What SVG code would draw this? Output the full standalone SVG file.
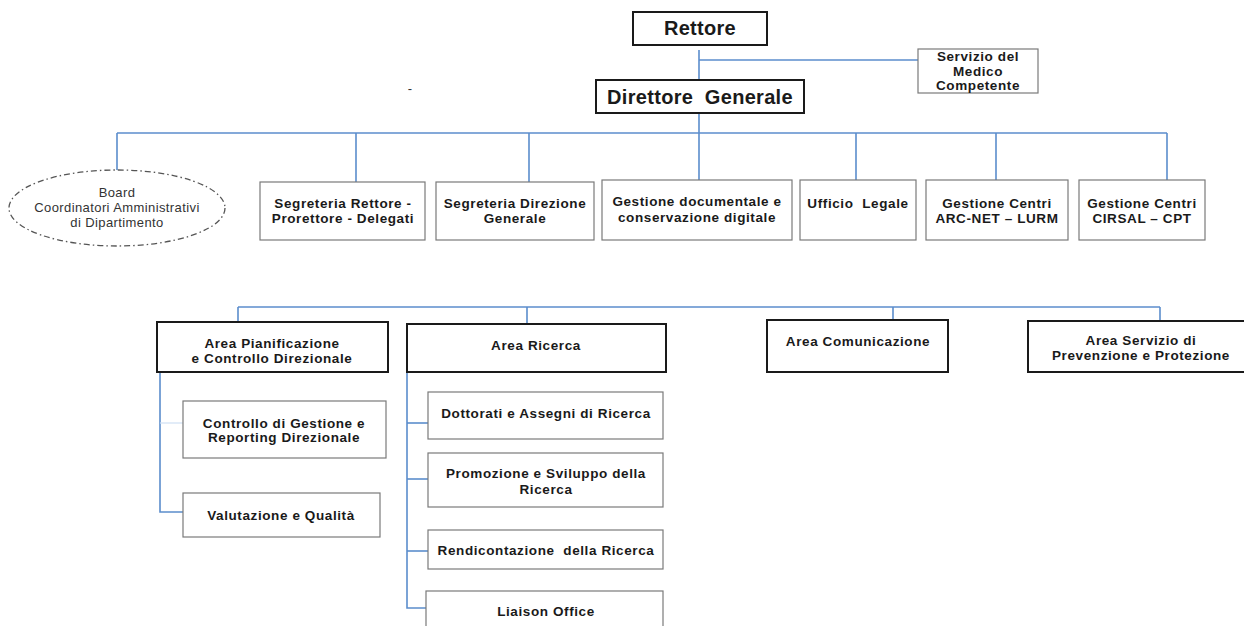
<svg xmlns="http://www.w3.org/2000/svg" width="1244" height="626" viewBox="0 0 1244 626">
<style>
.bg{fill:#ffffff}
.box{fill:#ffffff;stroke:#7a7a7a;stroke-width:1.2}
.tbox{fill:#ffffff;stroke:#1a1a1a;stroke-width:2}
.t{font-family:"Liberation Sans",Arial,sans-serif;font-weight:bold;font-size:13.5px;letter-spacing:0.6px;fill:#1a1a1a;text-anchor:middle;white-space:pre}
.big{font-family:"Liberation Sans",Arial,sans-serif;font-weight:bold;font-size:20px;letter-spacing:0.3px;fill:#1a1a1a;text-anchor:middle;white-space:pre}
.reg{font-family:"Liberation Sans",Arial,sans-serif;font-size:13px;letter-spacing:0.4px;fill:#333333;text-anchor:middle}
.ln{stroke:#5b8dcc;stroke-width:1.6;fill:none}
.fl{stroke:#cfe0f3;stroke-width:1.2;fill:none}
</style>
<rect class="bg" x="0" y="0" width="1244" height="626"/>
<g id="connectors">
<path class="ln" d="M699 50 V133"/>
<path class="ln" d="M699 60 H918"/>
<path class="ln" d="M117 133 H1167"/>
<path class="ln" d="M117 133 V170"/>
<path class="ln" d="M356 133 V182"/>
<path class="ln" d="M529 133 V182"/>
<path class="ln" d="M699 133 V180"/>
<path class="ln" d="M856 133 V180"/>
<path class="ln" d="M996 133 V180"/>
<path class="ln" d="M1167 133 V180"/>
<path class="ln" d="M238 307 H1160"/>
<path class="ln" d="M238 307 V322"/>
<path class="ln" d="M527 307 V324"/>
<path class="ln" d="M893 307 V320"/>
<path class="ln" d="M1160 307 V321"/>
<path class="ln" d="M160 372 V512 H183"/>
<path class="fl" d="M160 423 H183"/>
<path class="ln" d="M407 372 V608 H426"/>
<path class="ln" d="M407 423 H428"/>
<path class="ln" d="M407 479 H428"/>
<path class="ln" d="M407 551 H428"/>
</g>
<g id="rettore"><rect class="tbox" x="633" y="12" width="134" height="33"/><text class="big" x="700" y="35">Rettore</text></g>
<g id="servizio-medico"><rect class="box" x="918" y="49" width="120" height="44"/><text class="t" x="978" y="61">Servizio del</text><text class="t" x="978" y="76">Medico</text><text class="t" x="978" y="90">Competente</text></g>
<g id="direttore"><rect class="tbox" x="596" y="80" width="208" height="33"/><text class="big" x="700" y="104">Direttore  Generale</text></g>
<g id="dash"><text class="reg" x="410" y="93">-</text></g>
<g id="board"><ellipse cx="117" cy="208" rx="108" ry="38" fill="#ffffff" stroke="#555555" stroke-width="1.3" stroke-dasharray="6 3 1.5 3"/><text class="reg" x="117" y="197">Board</text><text class="reg" x="117" y="212">Coordinatori Amministrativi</text><text class="reg" x="117" y="227">di Dipartimento</text></g>
<g id="seg-rettore"><rect class="box" x="260" y="182" width="165" height="58"/><text class="t" x="343" y="208">Segreteria Rettore -</text><text class="t" x="343" y="223">Prorettore - Delegati</text></g>
<g id="seg-direzione"><rect class="box" x="436" y="182" width="158" height="58"/><text class="t" x="515" y="208">Segreteria Direzione</text><text class="t" x="515" y="223">Generale</text></g>
<g id="gest-doc"><rect class="box" x="602" y="180" width="190" height="60"/><text class="t" x="697" y="206">Gestione documentale e</text><text class="t" x="697" y="222">conservazione digitale</text></g>
<g id="ufficio-legale"><rect class="box" x="800" y="180" width="116" height="60"/><text class="t" x="858" y="208">Ufficio  Legale</text></g>
<g id="gest-arc"><rect class="box" x="926" y="180" width="142" height="60"/><text class="t" x="997" y="208">Gestione Centri</text><text class="t" x="997" y="223">ARC-NET – LURM</text></g>
<g id="gest-cirsal"><rect class="box" x="1079" y="180" width="126" height="60"/><text class="t" x="1142" y="208">Gestione Centri</text><text class="t" x="1142" y="223">CIRSAL – CPT</text></g>
<g id="area-pianificazione"><rect class="tbox" x="157" y="322" width="231" height="50"/><text class="t" x="272" y="348">Area Pianificazione</text><text class="t" x="272" y="363">e Controllo Direzionale</text></g>
<g id="area-ricerca"><rect class="tbox" x="407" y="324" width="259" height="48"/><text class="t" x="536" y="350">Area Ricerca</text></g>
<g id="area-comunicazione"><rect class="tbox" x="767" y="320" width="181" height="52"/><text class="t" x="858" y="346">Area Comunicazione</text></g>
<g id="area-servizio"><rect class="tbox" x="1028" y="321" width="218" height="51"/><text class="t" x="1141" y="345">Area Servizio di</text><text class="t" x="1141" y="360">Prevenzione e Protezione</text></g>
<g id="controllo"><rect class="box" x="183" y="401" width="203" height="57"/><text class="t" x="284" y="428">Controllo di Gestione e</text><text class="t" x="284" y="442">Reporting Direzionale</text></g>
<g id="valutazione"><rect class="box" x="183" y="493" width="197" height="44"/><text class="t" x="281" y="520">Valutazione e Qualità</text></g>
<g id="dottorati"><rect class="box" x="428" y="392" width="235" height="47"/><text class="t" x="546" y="418">Dottorati e Assegni di Ricerca</text></g>
<g id="promozione"><rect class="box" x="428" y="453" width="235" height="54"/><text class="t" x="546" y="478">Promozione e Sviluppo della</text><text class="t" x="546" y="494">Ricerca</text></g>
<g id="rendicontazione"><rect class="box" x="428" y="530" width="235" height="39"/><text class="t" x="546" y="555">Rendicontazione  della Ricerca</text></g>
<g id="liaison"><rect class="box" x="426" y="591" width="237" height="45"/><text class="t" x="546" y="616">Liaison Office</text></g>
</svg>
